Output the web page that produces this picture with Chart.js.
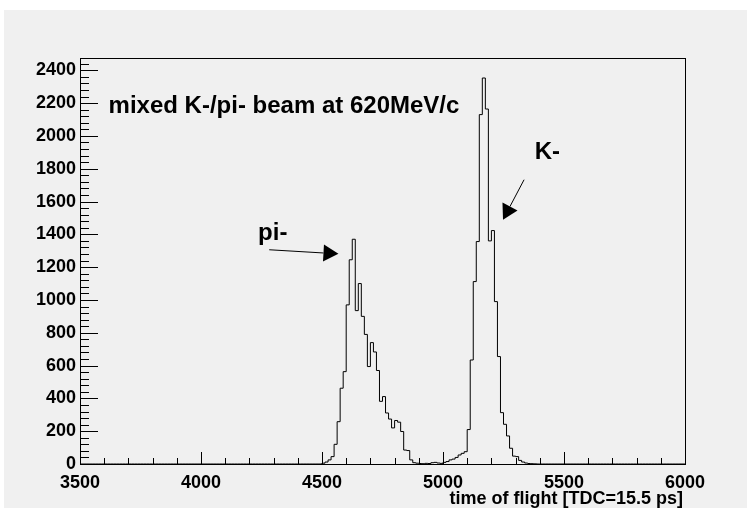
<!DOCTYPE html>
<html>
<head>
<meta charset="utf-8">
<script src="https://cdn.jsdelivr.net/npm/chart.js@4/dist/chart.umd.min.js"></script>
<style>
  body { margin: 0; background: #fff; }
</style>
</head>
<body>
<canvas id="tofChart" width="747" height="508"></canvas>
<script>
// histogram binning (TDC time of flight)
const xMin = 3500;
const xMax = 6000;
const binWidth = 12.5;
const yMax = 2475;

// counts per bin
const piStart = 4500;
const piCounts = [5, 12, 25, 45, 120, 258, 462, 563, 970, 1245, 1370, 935, 1100, 900, 790,
    594, 740, 683, 570, 382, 411, 311, 274, 220, 265, 255, 198, 85, 82, 25, 8, 5, 3];
const gapStart = 4912.5;
const gapCounts = [2, 4, 3, 8, 10, 6, 4];
const kStart = 5000;
const kCounts = [10, 15, 25, 30, 40, 55, 65, 75, 210, 634, 1112, 1356, 2130, 2353, 2164,
    1360, 1423, 990, 655, 313, 242, 171, 96, 48, 45, 22, 12, 6, 3, 2, 1];

const xTicks = [3500, 4000, 4500, 5000, 5500, 6000];
const yTicks = [0, 200, 400, 600, 800, 1000, 1200, 1400, 1600, 1800, 2000, 2200, 2400];

// text and arrows, in data coordinates
const labels = [
    { text: 'mixed K-/pi- beam at 620MeV/c', x: 3618, y: 2141 },
    { text: 'pi-', x: 4236, y: 1367 },
    { text: 'K-', x: 5379, y: 1858 }
];
const arrows = [
    { from: [4282, 1306], to: [4568, 1281] },
    { from: [5335, 1733], to: [5248, 1489] }
];

const nBins = Math.round((xMax - xMin) / binWidth);
const counts = new Array(nBins).fill(0);
function put(start, values) {
    const first = Math.round((start - xMin) / binWidth);
    values.forEach((v, i) => { counts[first + i] = v; });
}
put(piStart, piCounts);
put(gapStart, gapCounts);
put(kStart, kCounts);

const points = counts.map((c, i) => ({ x: xMin + i * binWidth, y: c }));
points.push({ x: xMax, y: counts[nBins - 1] });

const FONT = "'Liberation Sans', Arial, Helvetica, sans-serif";

const rootStyle = {
    id: 'rootStyle',
    beforeDraw(chart) {
        const ctx = chart.ctx;
        ctx.save();
        ctx.fillStyle = '#ffffff';
        ctx.fillRect(0, 0, chart.width, chart.height);
        ctx.fillStyle = '#f0f0f0';
        ctx.fillRect(4, 10, chart.width - 4, chart.height - 10);
        ctx.restore();
    },
    afterDraw(chart) {
        const ctx = chart.ctx;
        const a = chart.chartArea;
        const xs = chart.scales.x;
        const ys = chart.scales.y;
        ctx.save();
        ctx.strokeStyle = '#000';
        ctx.lineWidth = 1;
        ctx.strokeRect(Math.round(a.left) + 0.5, Math.round(a.top) + 0.5,
            Math.round(a.right - a.left), Math.round(a.bottom - a.top));

        // inward tick marks
        ctx.beginPath();
        for (let v = 0; v <= yMax; v += 40) {
            const y = Math.round(ys.getPixelForValue(v)) + 0.5;
            const len = v % 200 === 0 ? 18 : 9;
            ctx.moveTo(a.left, y);
            ctx.lineTo(a.left + len, y);
        }
        for (let v = xMin; v <= xMax; v += 100) {
            const x = Math.round(xs.getPixelForValue(v)) + 0.5;
            const len = v % 500 === 0 ? 12 : 6;
            ctx.moveTo(x, a.bottom);
            ctx.lineTo(x, a.bottom - len);
        }
        ctx.stroke();

        // axis title, right aligned
        ctx.fillStyle = '#000';
        ctx.font = 'bold 18px ' + FONT;
        ctx.textAlign = 'right';
        ctx.textBaseline = 'alphabetic';
        ctx.fillText('time of flight [TDC=15.5 ps]', a.right - 2, 504);

        // annotations
        ctx.font = 'bold 24px ' + FONT;
        ctx.textAlign = 'left';
        labels.forEach(l => {
            ctx.fillText(l.text, xs.getPixelForValue(l.x), ys.getPixelForValue(l.y));
        });
        arrows.forEach(ar => {
            const x0 = xs.getPixelForValue(ar.from[0]);
            const y0 = ys.getPixelForValue(ar.from[1]);
            const x1 = xs.getPixelForValue(ar.to[0]);
            const y1 = ys.getPixelForValue(ar.to[1]);
            const d = Math.hypot(x1 - x0, y1 - y0);
            const ux = (x1 - x0) / d, uy = (y1 - y0) / d;
            const bx = x1 - ux * 15, by = y1 - uy * 15;
            ctx.beginPath();
            ctx.moveTo(x0, y0);
            ctx.lineTo(bx, by);
            ctx.stroke();
            ctx.beginPath();
            ctx.moveTo(x1, y1);
            ctx.lineTo(bx - uy * 8.5, by + ux * 8.5);
            ctx.lineTo(bx + uy * 8.5, by - ux * 8.5);
            ctx.closePath();
            ctx.fill();
        });
        ctx.restore();
    }
};

new Chart(document.getElementById('tofChart'), {
    type: 'line',
    data: {
        datasets: [{
            data: points,
            stepped: true,
            borderColor: '#000',
            borderWidth: 1,
            pointRadius: 0,
            fill: false
        }]
    },
    options: {
        responsive: false,
        animation: false,
        layout: { padding: { left: 0, top: 58, right: 62, bottom: 0 } },
        plugins: { legend: { display: false }, tooltip: { enabled: false } },
        scales: {
            x: {
                type: 'linear',
                min: xMin,
                max: xMax,
                afterFit(scale) { scale.height = 44; },
                afterBuildTicks(scale) { scale.ticks = xTicks.map(v => ({ value: v })); },
                grid: { display: false, drawTicks: false },
                border: { display: false },
                ticks: { color: '#000', padding: 8, maxRotation: 0, autoSkip: false,
                    callback: v => String(v),
                    font: { family: FONT, size: 18, weight: 'bold' } }
            },
            y: {
                min: 0,
                max: yMax,
                afterFit(scale) { scale.width = 80; },
                afterBuildTicks(scale) { scale.ticks = yTicks.map(v => ({ value: v })); },
                grid: { display: false, drawTicks: false },
                border: { display: false },
                ticks: { color: '#000', padding: 4, autoSkip: false,
                    callback: v => String(v),
                    font: { family: FONT, size: 18, weight: 'bold' } }
            }
        }
    },
    plugins: [rootStyle]
});
</script>
</body>
</html>
